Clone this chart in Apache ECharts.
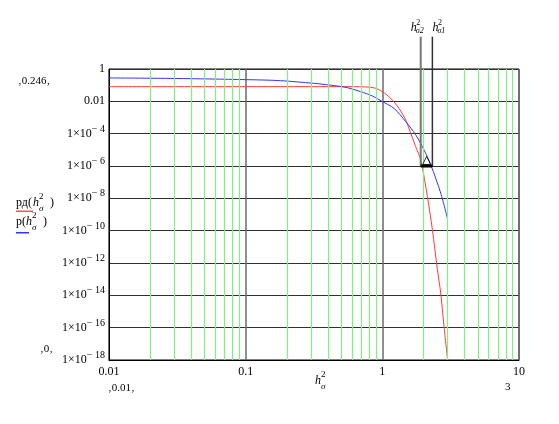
<!DOCTYPE html>
<html><head><meta charset="utf-8">
<script src="https://cdn.jsdelivr.net/npm/echarts@6/dist/echarts.min.js"></script>
<style>html,body{margin:0;padding:0;background:#fff}#c{width:559px;height:424px}</style>
</head><body><div id="c"></div>
<script>
// ---- data ----
const redH = [0.01, 0.1, 0.5, 0.75, 0.893, 1, 1.15, 1.323, 1.482, 1.612, 1.754, 1.909, 2.136, 2.324, 2.529, 2.674, 2.827, 2.99];
const redP = [0.081, 0.081, 0.081, 0.078, 0.065, 0.040, 0.0155, 3.7e-3, 7.1e-4, 1.07e-4, 1.58e-5, 2.4e-6, 1.3e-8, 1.15e-10, 3.9e-13, 1.4e-14, 1.2e-16, 1.4e-18];
const blueH = [0.01, 0.03, 0.1, 0.18, 0.314, 0.418, 0.554, 0.693, 0.85, 1, 1.216, 1.482, 1.754, 2.017, 2.259, 2.674, 2.99];
const blueP = [0.28, 0.26, 0.22, 0.19, 0.13, 0.10, 0.070, 0.040, 0.021, 9.7e-3, 3.7e-3, 5.6e-4, 8.5e-5, 1.0e-5, 1.2e-6, 2.1e-8, 6.0e-10];
const hMarkers = [1.909, 2.324];
const hMarkerSubs = ['σ2', 'σ1'];
const markerLevel = 1e-6;
const markerTop = 100;
const tracePoint = [2.11, 2.2e-6];
const xTickLabels = {'-2': '0.01', '-1': '0.1', '0': '1', '1': '10'};
const minorGrid = [0.02,0.03,0.04,0.05,0.06,0.07,0.08,0.09,0.2,0.3,0.4,0.5,0.6,0.7,0.8,0.9,2,3,4,5,6,7,8,9];

const SERIF = "'Liberation Serif','Times New Roman',serif";
const zip = (a, b) => a.map((v, i) => [v, b[i]]);

function hText(x, y, prefix, sub, suffix, opts) {
  const els = [];
  const fs = 12;
  let cx = x;
  if (prefix) {
    els.push({type: 'text', left: cx, top: y - 6, style: {text: prefix, font: fs + 'px ' + SERIF, fill: '#000'}});
    cx += opts.pw;
  }
  els.push({type: 'text', left: cx, top: y - 6, style: {text: 'h', font: 'italic ' + fs + 'px ' + SERIF, fill: '#000'}});
  cx += 6;
  els.push({type: 'text', left: cx, top: y - 11, style: {text: '2', font: '9px ' + SERIF, fill: '#000'}});
  els.push({type: 'text', left: cx, top: y + 1, style: {text: sub, font: 'italic 9px ' + SERIF, fill: '#000'}});
  if (suffix) {
    els.push({type: 'text', left: cx + opts.sw, top: y - 6, style: {text: suffix, font: fs + 'px ' + SERIF, fill: '#000'}});
  }
  return els;
}

const graphics = [].concat(
  hText(16, 203, 'рд(', 'σ', ')', {pw: 17, sw: 11}),
  hText(16, 222, 'p(', 'σ', ')', {pw: 10, sw: 11}),
  hText(315, 381, '', 'σ', '', {}),
  [
    {type: 'rect', shape: {x: 16, y: 210.5, width: 17, height: 1.5}, style: {fill: '#ff5050'}},
    {type: 'rect', shape: {x: 16, y: 232, width: 13, height: 1.5}, style: {fill: '#3030ff'}},
    {type: 'text', left: 18, top: 76, style: {text: '‚0.246‚', font: '11px ' + SERIF, fill: '#000'}},
    {type: 'text', left: 40, top: 344, style: {text: '‚0‚', font: '11px ' + SERIF, fill: '#000'}},
    {type: 'text', left: 108, top: 383, style: {text: '‚0.01‚', font: '11px ' + SERIF, fill: '#000'}},
    {type: 'text', left: 505, top: 382, style: {text: '3', font: '11px ' + SERIF, fill: '#000'}}
  ]
);

const chart = echarts.init(document.getElementById('c'), null, {renderer: 'canvas'});
chart.setOption({
  animation: false,
  backgroundColor: '#fff',
  grid: {left: 109, right: 40, top: 69, bottom: 64, show: true, borderColor: '#000', borderWidth: 1, backgroundColor: 'transparent'},
  xAxis: {
    type: 'log', logBase: 10, min: 0.01, max: 10, splitNumber: 3,
    axisLine: {lineStyle: {color: '#000'}},
    axisTick: {show: false},
    axisLabel: {
      color: '#000', fontFamily: SERIF, fontSize: 12, margin: 6,
      formatter: v => xTickLabels[String(Math.round(Math.log10(v)))] || ''
    },
    splitLine: {show: true, lineStyle: {color: '#6a6a6a', width: 1.5}}
  },
  yAxis: {
    type: 'log', logBase: 100, min: 1e-18, max: 1, splitNumber: 9,
    axisLine: {lineStyle: {color: '#000'}},
    axisTick: {show: false},
    axisLabel: {
      color: '#000', fontFamily: SERIF, fontSize: 12, margin: 4,
      formatter: v => {
        const e = Math.round(Math.log10(v));
        if (e === 0) return '1';
        if (e === -2) return '0.01';
        return '1×10{s|− ' + (-e) + '}';
      },
      rich: {s: {fontFamily: SERIF, fontSize: 10, verticalAlign: 'top', padding: [0, 0, 9, 0], color: '#000'}}
    },
    splitLine: {show: true, lineStyle: {color: '#303030', width: 1}}
  },
  graphic: graphics,
  series: [
    {
      type: 'line', data: [], silent: true, z: 1,
      markLine: {
        silent: true, symbol: 'none', animation: false,
        label: {show: false},
        lineStyle: {color: '#84ee84', width: 1.2, type: 'solid'},
        data: minorGrid.map(v => ({xAxis: v}))
      }
    },
    {
      name: 'рд', type: 'line', data: zip(redH, redP), showSymbol: false, smooth: 0.3,
      lineStyle: {color: '#ff3a3a', width: 1}, itemStyle: {color: '#ff3a3a'}, z: 4
    },
    {
      name: 'p', type: 'line', data: zip(blueH, blueP), showSymbol: false, smooth: 0.3,
      lineStyle: {color: '#3535ff', width: 1}, itemStyle: {color: '#3535ff'}, z: 4
    },
    {
      type: 'line', data: [[hMarkers[0], markerLevel], [hMarkers[1], markerLevel]], showSymbol: false,
      lineStyle: {color: '#000', width: 3}, z: 5
    },
    {
      type: 'scatter', data: [tracePoint], symbol: 'triangle', symbolSize: 8,
      itemStyle: {color: 'rgba(255,255,255,0)', borderColor: '#000', borderWidth: 1}, z: 6
    },
    {
      type: 'custom', clip: false, z: 5,
      data: hMarkers.map(h => [h, markerLevel, markerTop]),
      renderItem: (params, api) => {
        const i = params.dataIndex;
        const b = api.coord([api.value(0), api.value(1)]);
        const t = api.coord([api.value(0), api.value(2)]);
        const sh = i === 0 ? -10 : 0;
        return {
          type: 'group',
          children: [
            {type: 'line', shape: {x1: b[0], y1: b[1], x2: t[0], y2: t[1]},
             style: {stroke: i === 0 ? '#777' : '#333', lineWidth: i === 0 ? 2 : 1.5}},
            {type: 'text', style: {x: t[0] + sh, y: t[1] - 15, text: 'h', font: 'italic 12px ' + SERIF, fill: '#000'}},
            {type: 'text', style: {x: t[0] + sh + 5.5, y: t[1] - 18, text: '2', font: '8px ' + SERIF, fill: '#000'}},
            {type: 'text', style: {x: t[0] + sh + 5, y: t[1] - 10, text: hMarkerSubs[i], font: 'italic 8px ' + SERIF, fill: '#000'}}
          ]
        };
      }
    }
  ]
});
</script>
</body></html>
